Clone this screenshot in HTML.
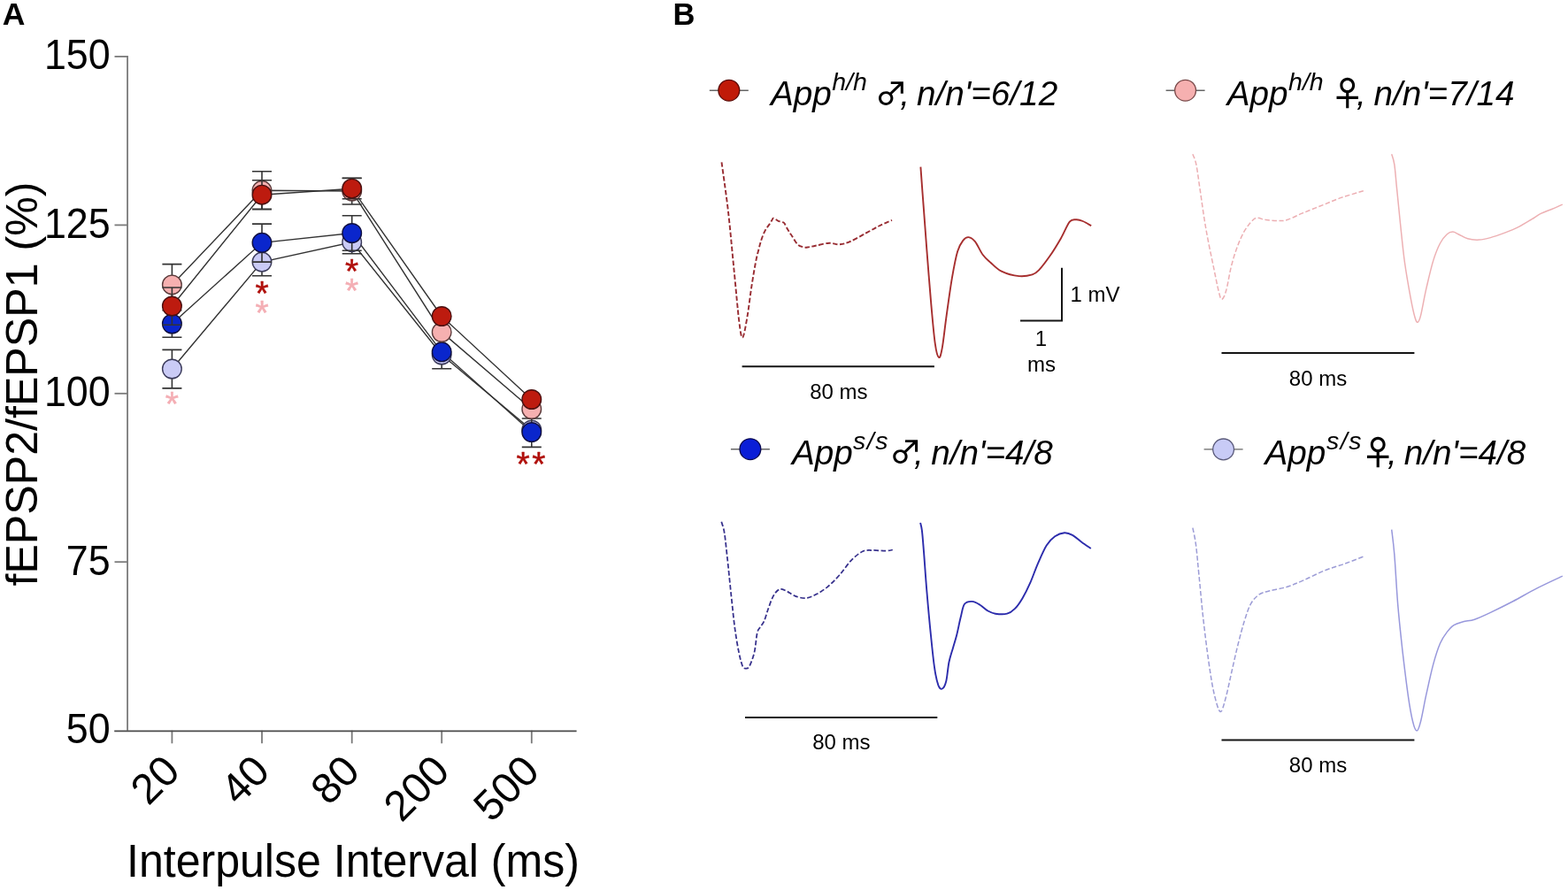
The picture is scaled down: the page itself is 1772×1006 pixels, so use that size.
<!DOCTYPE html>
<html><head><meta charset="utf-8"><title>Paired-pulse facilitation figure</title>
<style>html,body{margin:0;padding:0;background:#fff;overflow:hidden;}svg{display:block;}</style>
</head><body>
<svg width="1772" height="1006" viewBox="0 0 1772 1006">
<rect width="100%" height="100%" fill="#fff"/>
<text transform="translate(2.7,27.6) scale(1.03,1)" font-family="Liberation Sans, Arial, sans-serif" font-weight="bold" font-size="34.5" fill="#000">A</text>
<text x="760.6" y="27.6" font-family="Liberation Sans, Arial, sans-serif" font-weight="bold" font-size="34.5" fill="#000">B</text>
<g stroke="#7a7a7a" stroke-width="1.8" fill="none">
<path d="M144.05,63.1 V825.7"/>
<path d="M129.5,63.9 H144"/>
<path d="M129.5,254.4 H144"/>
<path d="M129.5,444.8 H144"/>
<path d="M129.5,635.2 H144"/>
<path d="M194.4,825.7 V840.3"/>
<path d="M296.0,825.7 V840.3"/>
<path d="M397.7,825.7 V840.3"/>
<path d="M499.2,825.7 V840.3"/>
<path d="M600.8,825.7 V840.3"/>
</g>
<path d="M129.2,826.4 H651.6" stroke="#4a4a4a" stroke-width="1.6" fill="none"/>
<g font-family="Liberation Sans, Arial, sans-serif" font-size="48.5" fill="#000" text-anchor="end">
<text transform="translate(124.7,78.3) scale(0.924,1)">150</text>
<text transform="translate(124.7,268.8) scale(0.924,1)">125</text>
<text transform="translate(124.7,459.2) scale(0.924,1)">100</text>
<text transform="translate(124.7,649.6) scale(0.924,1)">75</text>
<text transform="translate(124.7,840.1) scale(0.924,1)">50</text>
</g>
<g font-family="Liberation Sans, Arial, sans-serif" font-size="48" fill="#000" text-anchor="end">
<text transform="translate(205.6,874) rotate(-45)">20</text>
<text transform="translate(307.2,874) rotate(-45)">40</text>
<text transform="translate(408.9,874) rotate(-45)">80</text>
<text transform="translate(510.4,874) rotate(-45)">200</text>
<text transform="translate(612.0,874) rotate(-45)">500</text>
</g>
<text transform="translate(143.0,991) scale(0.963,1)" font-family="Liberation Sans, Arial, sans-serif" font-size="52" fill="#000">Interpulse Interval (ms)</text>
<text transform="translate(41.5,662.5) rotate(-90) scale(0.993,1)" font-family="Liberation Sans, Arial, sans-serif" font-size="50.5" fill="#000">fEPSP2/fEPSP1 (%)</text>
<path d="M194.4,417.0 L296.0,296.1 L397.7,273.7 L499.2,401.0 L600.8,486.0" stroke="#333" stroke-width="1.4" fill="none"/>
<path d="M194.4,366.0 L296.0,274.3 L397.7,263.5 L499.2,397.8 L600.8,488.5" stroke="#333" stroke-width="1.4" fill="none"/>
<path d="M194.4,321.9 L296.0,215.3 L397.7,216.0 L499.2,375.5 L600.8,462.5" stroke="#333" stroke-width="1.4" fill="none"/>
<path d="M194.4,346.0 L296.0,220.2 L397.7,213.2 L499.2,357.5 L600.8,451.5" stroke="#333" stroke-width="1.4" fill="none"/>
<path d="M194.4,417.0 V395.4 M183.4,395.4 H205.4 M194.4,417.0 V438.9 M183.4,438.9 H205.4" stroke="#333" stroke-width="1.6" fill="none"/>
<circle cx="194.4" cy="417.0" r="10.8" fill="#cacbf6" stroke="#3a3a5a" stroke-width="1.4"/>
<path d="M296.0,296.1 V311.8 M285.0,311.8 H307.0" stroke="#333" stroke-width="1.6" fill="none"/>
<circle cx="296.0" cy="296.1" r="10.8" fill="#cacbf6" stroke="#3a3a5a" stroke-width="1.4"/>
<path d="M397.7,273.7 V286.7 M386.7,286.7 H408.7" stroke="#333" stroke-width="1.6" fill="none"/>
<circle cx="397.7" cy="273.7" r="10.8" fill="#cacbf6" stroke="#3a3a5a" stroke-width="1.4"/>
<path d="M499.2,401.0 V416.7 M488.2,416.7 H510.2" stroke="#333" stroke-width="1.6" fill="none"/>
<circle cx="499.2" cy="401.0" r="10.8" fill="#cacbf6" stroke="#3a3a5a" stroke-width="1.4"/>
<circle cx="600.8" cy="486.0" r="10.8" fill="#cacbf6" stroke="#3a3a5a" stroke-width="1.4"/>
<path d="M194.4,366.0 V350.7 M183.4,350.7 H205.4 M194.4,366.0 V381.3 M183.4,381.3 H205.4" stroke="#333" stroke-width="1.6" fill="none"/>
<circle cx="194.4" cy="366.0" r="10.8" fill="#0a26cc" stroke="#101040" stroke-width="1.4"/>
<path d="M296.0,274.3 V253.1 M285.0,253.1 H307.0 M296.0,274.3 V296.1 M285.0,296.1 H307.0" stroke="#333" stroke-width="1.6" fill="none"/>
<circle cx="296.0" cy="274.3" r="10.8" fill="#0a26cc" stroke="#101040" stroke-width="1.4"/>
<path d="M397.7,263.5 V243.8 M386.7,243.8 H408.7 M397.7,263.5 V283.2 M386.7,283.2 H408.7" stroke="#333" stroke-width="1.6" fill="none"/>
<circle cx="397.7" cy="263.5" r="10.8" fill="#0a26cc" stroke="#101040" stroke-width="1.4"/>
<circle cx="499.2" cy="397.8" r="10.8" fill="#0a26cc" stroke="#101040" stroke-width="1.4"/>
<path d="M600.8,488.5 V473.0 M589.8,473.0 H611.8 M600.8,488.5 V505.4 M589.8,505.4 H611.8" stroke="#333" stroke-width="1.6" fill="none"/>
<circle cx="600.8" cy="488.5" r="10.8" fill="#0a26cc" stroke="#101040" stroke-width="1.4"/>
<path d="M194.4,321.9 V298.6 M183.4,298.6 H205.4 M194.4,321.9 V345.2 M183.4,345.2 H205.4" stroke="#333" stroke-width="1.6" fill="none"/>
<circle cx="194.4" cy="321.9" r="10.8" fill="#f6b0b0" stroke="#5a3a3a" stroke-width="1.4"/>
<path d="M296.0,215.3 V193.7 M285.0,193.7 H307.0 M296.0,215.3 V236.8 M285.0,236.8 H307.0" stroke="#333" stroke-width="1.6" fill="none"/>
<circle cx="296.0" cy="215.3" r="10.8" fill="#f6b0b0" stroke="#5a3a3a" stroke-width="1.4"/>
<path d="M397.7,216.0 V201.2 M386.7,201.2 H408.7 M397.7,216.0 V231.0 M386.7,231.0 H408.7" stroke="#333" stroke-width="1.6" fill="none"/>
<circle cx="397.7" cy="216.0" r="10.8" fill="#f6b0b0" stroke="#5a3a3a" stroke-width="1.4"/>
<circle cx="499.2" cy="375.5" r="10.8" fill="#f6b0b0" stroke="#5a3a3a" stroke-width="1.4"/>
<circle cx="600.8" cy="462.5" r="10.8" fill="#f6b0b0" stroke="#5a3a3a" stroke-width="1.4"/>
<path d="M194.4,346.0 V325.0 M183.4,325.0 H205.4 M194.4,346.0 V367.3 M183.4,367.3 H205.4" stroke="#333" stroke-width="1.6" fill="none"/>
<circle cx="194.4" cy="346.0" r="10.8" fill="#bd1b0f" stroke="#4a1010" stroke-width="1.4"/>
<path d="M296.0,220.2 V203.8 M285.0,203.8 H307.0 M296.0,220.2 V236.3 M285.0,236.3 H307.0" stroke="#333" stroke-width="1.6" fill="none"/>
<circle cx="296.0" cy="220.2" r="10.8" fill="#bd1b0f" stroke="#4a1010" stroke-width="1.4"/>
<path d="M397.7,213.2 V201.5 M386.7,201.5 H408.7 M397.7,213.2 V224.8 M386.7,224.8 H408.7" stroke="#333" stroke-width="1.6" fill="none"/>
<circle cx="397.7" cy="213.2" r="10.8" fill="#bd1b0f" stroke="#4a1010" stroke-width="1.4"/>
<circle cx="499.2" cy="357.5" r="10.8" fill="#bd1b0f" stroke="#4a1010" stroke-width="1.4"/>
<circle cx="600.8" cy="451.5" r="10.8" fill="#bd1b0f" stroke="#4a1010" stroke-width="1.4"/>
<text x="194.4" y="470.4" font-family="Liberation Sans, Arial, sans-serif" text-anchor="middle" font-size="39" fill="#f4aeb4" stroke="#f4aeb4" stroke-width="0.45" stroke-linejoin="round">*</text>
<text x="296.0" y="344.7" font-family="Liberation Sans, Arial, sans-serif" text-anchor="middle" font-size="39" fill="#b0100c" stroke="#b0100c" stroke-width="0.45" stroke-linejoin="round">*</text>
<text x="296.0" y="366.9" font-family="Liberation Sans, Arial, sans-serif" text-anchor="middle" font-size="39" fill="#f4aeb4" stroke="#f4aeb4" stroke-width="0.45" stroke-linejoin="round">*</text>
<text x="397.7" y="320.2" font-family="Liberation Sans, Arial, sans-serif" text-anchor="middle" font-size="39" fill="#b0100c" stroke="#b0100c" stroke-width="0.45" stroke-linejoin="round">*</text>
<text x="397.7" y="341.7" font-family="Liberation Sans, Arial, sans-serif" text-anchor="middle" font-size="39" fill="#f4aeb4" stroke="#f4aeb4" stroke-width="0.45" stroke-linejoin="round">*</text>
<text x="591.2" y="538.4" font-family="Liberation Sans, Arial, sans-serif" text-anchor="middle" font-size="39" fill="#b0100c" stroke="#b0100c" stroke-width="0.45" stroke-linejoin="round">*</text>
<text x="608.9" y="538.4" font-family="Liberation Sans, Arial, sans-serif" text-anchor="middle" font-size="39" fill="#b0100c" stroke="#b0100c" stroke-width="0.45" stroke-linejoin="round">*</text>
<path d="M801.8,102.2 H845.8" stroke="#666" stroke-width="1.4"/>
<circle cx="823.8" cy="102.2" r="11.9" fill="#c01a08" stroke="#5a0a05" stroke-width="1.3"/>
<text x="871.0" y="119.4" font-family="Liberation Sans, Arial, sans-serif" font-style="italic" font-size="38.7" fill="#000">App</text>
<text x="940.2" y="102.2" font-family="Liberation Sans, Arial, sans-serif" font-style="italic" font-size="28.5" letter-spacing="0" fill="#000">h/h</text>
<text transform="translate(988.8,118.7) scale(1,0.94)" font-family="Noto Sans CJK JP, Liberation Sans, sans-serif" font-weight="500" font-size="37" fill="#000">♂</text>
<text x="1017.2" y="119.4" font-family="Liberation Sans, Arial, sans-serif" font-style="italic" font-size="38.7" fill="#000">,</text>
<text x="1036.1" y="119.4" font-family="Liberation Sans, Arial, sans-serif" font-style="italic" font-size="38.7" fill="#000">n/n'=6/12</text>
<path d="M1317.6,102.2 H1361.6" stroke="#666" stroke-width="1.4"/>
<circle cx="1339.6" cy="102.2" r="11.9" fill="#f6b0b0" stroke="#7a4a4a" stroke-width="1.3"/>
<text x="1386.8" y="119.4" font-family="Liberation Sans, Arial, sans-serif" font-style="italic" font-size="38.7" fill="#000">App</text>
<text x="1456.1" y="102.2" font-family="Liberation Sans, Arial, sans-serif" font-style="italic" font-size="28.5" letter-spacing="0" fill="#000">h/h</text>
<text x="1503.7" y="119.4" font-family="Noto Sans CJK JP, Liberation Sans, sans-serif" font-weight="500" font-size="38" fill="#000">♀</text>
<text x="1533.1" y="119.4" font-family="Liberation Sans, Arial, sans-serif" font-style="italic" font-size="38.7" fill="#000">,</text>
<text x="1552.4" y="119.4" font-family="Liberation Sans, Arial, sans-serif" font-style="italic" font-size="38.7" fill="#000">n/n'=7/14</text>
<path d="M825.9,507.7 H869.9" stroke="#666" stroke-width="1.4"/>
<circle cx="847.9" cy="507.7" r="11.9" fill="#0a1ed7" stroke="#0a0a50" stroke-width="1.3"/>
<text x="895.0" y="524.7" font-family="Liberation Sans, Arial, sans-serif" font-style="italic" font-size="38.7" fill="#000">App</text>
<text x="964.0" y="507.6" font-family="Liberation Sans, Arial, sans-serif" font-style="italic" font-size="28.5" letter-spacing="1.5" fill="#000">s/s</text>
<text transform="translate(1005.0,524.4) scale(1,0.94)" font-family="Noto Sans CJK JP, Liberation Sans, sans-serif" font-weight="500" font-size="37" fill="#000">♂</text>
<text x="1033.0" y="524.7" font-family="Liberation Sans, Arial, sans-serif" font-style="italic" font-size="38.7" fill="#000">,</text>
<text x="1052.3" y="524.7" font-family="Liberation Sans, Arial, sans-serif" font-style="italic" font-size="38.7" fill="#000">n/n'=4/8</text>
<path d="M1360.6,507.9 H1404.6" stroke="#666" stroke-width="1.4"/>
<circle cx="1382.6" cy="507.9" r="11.9" fill="#c8cbf6" stroke="#5a5a7a" stroke-width="1.3"/>
<text x="1429.5" y="524.7" font-family="Liberation Sans, Arial, sans-serif" font-style="italic" font-size="38.7" fill="#000">App</text>
<text x="1499.1" y="507.6" font-family="Liberation Sans, Arial, sans-serif" font-style="italic" font-size="28.5" letter-spacing="1.5" fill="#000">s/s</text>
<text x="1538.2" y="524.9" font-family="Noto Sans CJK JP, Liberation Sans, sans-serif" font-weight="500" font-size="38" fill="#000">♀</text>
<text x="1568.0" y="524.7" font-family="Liberation Sans, Arial, sans-serif" font-style="italic" font-size="38.7" fill="#000">,</text>
<text x="1586.8" y="524.7" font-family="Liberation Sans, Arial, sans-serif" font-style="italic" font-size="38.7" fill="#000">n/n'=4/8</text>
<path d="M815.5,183.3 C816.7,192.5 820.5,218.0 822.9,238.6 C825.3,259.2 827.6,286.2 829.7,307.1 C831.8,328.1 833.8,351.9 835.4,364.3 C837.0,376.7 837.8,382.5 839.3,381.4 C840.8,380.2 843.0,366.7 844.6,357.4 C846.2,348.1 847.6,335.3 849.1,325.4 C850.6,315.5 852.4,305.0 853.7,298.0 C855.0,291.0 855.9,287.8 857.0,283.5 C858.1,279.2 858.9,275.7 860.1,272.0 C861.3,268.3 862.8,264.3 864.3,261.3 C865.8,258.3 867.7,256.2 869.1,254.1 C870.5,252.0 871.8,249.8 872.6,248.5 C873.5,247.2 873.1,246.4 874.2,246.6 C875.3,246.8 877.5,248.8 879.2,249.6 C880.9,250.4 883.3,250.7 884.5,251.2 C885.7,251.7 885.5,251.0 886.5,252.5 C887.5,254.0 889.1,257.7 890.6,260.1 C892.1,262.6 893.5,264.5 895.3,267.2 C897.1,269.9 899.3,274.2 901.3,276.2 C903.3,278.2 905.4,278.6 907.3,279.2 C909.2,279.8 910.2,279.8 912.6,279.5 C915.0,279.2 917.5,278.5 921.6,277.7 C925.7,276.9 932.6,274.9 937.1,274.7 C941.6,274.5 944.8,276.5 948.6,276.3 C952.4,276.1 955.0,275.4 960.0,273.3 C965.0,271.2 972.6,266.8 978.3,263.7 C984.0,260.6 989.3,257.5 994.3,255.0 C999.2,252.5 1005.7,249.9 1008.0,248.9" stroke="#982c32" stroke-width="1.9" fill="none" stroke-linejoin="round" stroke-dasharray="5.5,2.5"/>
<path d="M1040.4,188.6 C1040.9,195.8 1042.4,216.6 1043.6,232.1 C1044.8,247.6 1045.8,263.2 1047.3,281.8 C1048.8,300.4 1050.7,326.1 1052.3,343.9 C1053.9,361.7 1055.3,378.6 1056.8,388.6 C1058.2,398.6 1059.7,403.2 1061.0,404.0 C1062.3,404.8 1063.2,401.6 1064.7,393.6 C1066.2,385.7 1067.8,369.6 1069.7,356.3 C1071.6,343.1 1073.8,326.1 1075.9,314.1 C1078.0,302.1 1080.0,291.3 1082.1,284.3 C1084.2,277.3 1086.2,274.6 1088.3,271.9 C1090.4,269.2 1092.2,267.9 1094.5,268.1 C1096.8,268.3 1099.3,269.8 1102.0,273.1 C1104.7,276.4 1107.8,284.1 1110.7,288.0 C1113.6,291.9 1115.9,293.6 1119.4,296.7 C1122.9,299.8 1126.4,304.0 1131.8,306.6 C1137.2,309.2 1145.9,311.5 1151.7,312.1 C1157.5,312.7 1162.9,311.5 1166.6,310.4 C1170.3,309.3 1170.7,308.9 1174.0,305.4 C1177.3,301.9 1182.3,295.3 1186.5,289.3 C1190.7,283.3 1195.2,275.8 1198.9,269.4 C1202.6,263.0 1205.9,254.2 1208.8,250.7 C1211.7,247.2 1213.8,248.4 1216.3,248.3 C1218.8,248.2 1220.9,248.8 1223.7,250.0 C1226.5,251.2 1231.6,254.3 1233.2,255.2" stroke="#a62e2e" stroke-width="1.9" fill="none" stroke-linejoin="round"/>
<path d="M1347.9,174.2 C1348.6,176.2 1350.5,179.4 1351.9,186.2 C1353.3,192.9 1354.4,202.7 1356.2,214.7 C1358.0,226.7 1360.2,243.8 1362.8,258.4 C1365.3,273.0 1369.1,290.5 1371.5,302.1 C1373.9,313.8 1375.5,322.3 1377.0,328.3 C1378.5,334.3 1379.2,338.2 1380.7,338.2 C1382.2,338.2 1384.0,334.3 1385.7,328.3 C1387.5,322.3 1389.2,310.1 1391.2,302.1 C1393.2,294.1 1395.4,286.8 1397.8,280.2 C1400.2,273.6 1402.9,267.5 1405.4,262.8 C1408.0,258.1 1410.7,254.5 1413.1,251.8 C1415.5,249.1 1416.7,247.0 1419.6,246.4 C1422.5,245.8 1426.6,248.0 1430.6,248.5 C1434.6,249.0 1439.7,249.6 1443.7,249.6 C1447.7,249.6 1449.9,249.9 1454.6,248.5 C1459.3,247.1 1465.5,243.6 1472.1,240.9 C1478.7,238.2 1486.7,235.0 1494.0,232.1 C1501.3,229.2 1508.0,226.1 1515.8,223.4 C1523.6,220.7 1536.8,217.0 1541.0,215.7" stroke="#ecaeb2" stroke-width="1.5" fill="none" stroke-linejoin="round" stroke-dasharray="5.5,2.5"/>
<path d="M1572.7,174.2 C1573.2,176.1 1574.8,179.6 1575.8,185.8 C1576.8,192.1 1577.3,200.9 1578.4,211.7 C1579.5,222.5 1580.8,236.3 1582.3,250.5 C1583.8,264.7 1585.5,282.8 1587.5,297.0 C1589.5,311.2 1592.1,325.5 1594.0,335.8 C1595.9,346.1 1597.7,354.3 1599.1,359.0 C1600.5,363.7 1601.1,364.6 1602.2,364.2 C1603.3,363.8 1604.0,362.9 1605.6,356.4 C1607.2,349.9 1609.6,335.7 1612.0,325.4 C1614.4,315.1 1617.2,302.8 1619.8,294.4 C1622.4,286.0 1624.9,279.9 1627.5,275.0 C1630.1,270.1 1632.9,266.8 1635.3,264.7 C1637.7,262.6 1639.6,262.1 1641.8,262.1 C1644.0,262.1 1645.4,263.4 1648.2,264.7 C1651.0,266.0 1654.7,268.7 1658.6,269.8 C1662.5,270.9 1667.2,271.3 1671.5,271.1 C1675.8,270.9 1679.7,269.9 1684.4,268.6 C1689.1,267.3 1694.7,265.3 1699.9,263.4 C1705.1,261.4 1710.2,259.5 1715.4,256.9 C1720.6,254.3 1726.6,250.5 1730.9,247.9 C1735.2,245.3 1737.4,243.4 1741.3,241.4 C1745.2,239.4 1750.1,237.9 1754.2,236.2 C1758.3,234.5 1763.9,231.9 1765.8,231.1" stroke="#edb0b3" stroke-width="1.5" fill="none" stroke-linejoin="round"/>
<path d="M815.3,589.8 C815.8,591.8 817.5,595.1 818.6,601.9 C819.7,608.6 820.6,618.6 821.9,630.3 C823.2,641.9 824.8,658.3 826.2,671.8 C827.7,685.3 829.1,700.3 830.6,711.2 C832.1,722.1 833.6,730.5 835.0,737.4 C836.4,744.3 837.8,749.5 839.0,752.5 C840.2,755.5 841.2,755.5 842.5,755.6 C843.8,755.7 845.1,756.2 846.8,753.2 C848.5,750.2 851.0,743.7 852.5,737.4 C854.0,731.1 854.6,720.2 855.7,715.5 C856.8,710.8 857.7,711.2 859.0,709.0 C860.3,706.8 861.9,705.7 863.4,702.4 C864.9,699.1 866.2,693.8 867.8,689.3 C869.4,684.8 871.4,678.7 873.2,675.1 C875.0,671.5 877.1,669.0 878.7,667.5 C880.4,666.0 881.3,665.7 883.1,665.9 C884.9,666.1 887.1,667.2 889.6,668.5 C892.1,669.8 894.9,672.3 898.4,673.6 C901.9,674.9 906.4,676.5 910.4,676.2 C914.4,675.9 918.2,674.0 922.4,671.8 C926.6,669.6 931.1,666.7 935.5,663.1 C939.9,659.5 944.3,654.9 948.7,650.0 C953.1,645.1 957.4,638.1 961.8,633.6 C966.2,629.1 970.9,625.2 974.9,623.3 C978.9,621.4 981.4,622.1 985.8,622.0 C990.2,621.9 997.3,622.7 1001.1,622.6 C1004.9,622.5 1007.5,621.7 1008.8,621.5" stroke="#36308c" stroke-width="1.75" fill="none" stroke-linejoin="round" stroke-dasharray="5.5,2.5"/>
<path d="M1040.1,590.9 C1040.4,592.4 1041.2,594.2 1041.9,599.7 C1042.6,605.2 1043.1,612.4 1044.0,623.7 C1044.9,635.0 1046.0,652.2 1047.3,667.5 C1048.6,682.8 1050.2,700.9 1051.7,715.5 C1053.2,730.1 1054.6,745.0 1056.1,754.9 C1057.5,764.8 1059.0,770.7 1060.4,774.6 C1061.9,778.5 1063.3,779.2 1064.8,778.5 C1066.3,777.8 1067.9,775.2 1069.2,770.2 C1070.5,765.2 1071.2,754.5 1072.5,748.3 C1073.8,742.1 1075.3,738.1 1076.8,733.0 C1078.2,727.9 1079.7,723.5 1081.2,717.7 C1082.7,711.9 1084.1,703.9 1085.6,698.1 C1087.1,692.3 1087.8,685.8 1090.0,682.8 C1092.2,679.8 1095.8,679.7 1098.7,679.9 C1101.6,680.1 1104.6,682.0 1107.5,683.8 C1110.4,685.5 1113.3,688.8 1116.2,690.4 C1119.1,692.0 1121.2,693.2 1124.9,693.7 C1128.6,694.2 1134.4,694.6 1138.1,693.7 C1141.8,692.8 1143.9,691.1 1146.8,688.2 C1149.7,685.3 1152.6,681.1 1155.5,676.2 C1158.4,671.3 1161.4,665.3 1164.3,658.7 C1167.2,652.1 1169.9,643.8 1173.0,636.8 C1176.1,629.8 1179.5,621.6 1182.7,616.5 C1185.9,611.4 1188.8,608.7 1192.2,606.3 C1195.6,603.9 1199.7,602.5 1203.0,602.2 C1206.3,602.0 1208.7,603.0 1212.0,604.8 C1215.3,606.6 1219.1,610.4 1222.6,612.9 C1226.1,615.4 1231.1,618.8 1232.8,620.0" stroke="#2c2cac" stroke-width="1.9" fill="none" stroke-linejoin="round"/>
<path d="M1347.9,596.7 C1348.5,599.9 1350.3,606.6 1351.5,615.8 C1352.7,624.9 1353.7,637.7 1355.1,651.6 C1356.5,665.5 1358.0,683.4 1359.8,699.3 C1361.6,715.2 1363.8,733.1 1365.8,747.0 C1367.8,760.9 1369.6,773.2 1371.8,782.8 C1374.0,792.3 1376.7,803.1 1378.9,804.3 C1381.1,805.5 1382.7,797.5 1384.9,790.0 C1387.1,782.5 1389.6,769.4 1392.0,759.0 C1394.4,748.6 1396.8,737.4 1399.2,727.9 C1401.6,718.4 1404.0,709.2 1406.4,701.7 C1408.8,694.2 1410.7,687.6 1413.5,682.6 C1416.3,677.6 1419.5,674.4 1423.1,671.9 C1426.7,669.4 1429.8,669.2 1435.0,667.8 C1440.2,666.4 1447.7,665.5 1454.1,663.5 C1460.5,661.5 1466.0,659.0 1473.2,655.9 C1480.4,652.8 1489.0,648.1 1497.0,644.9 C1505.0,641.7 1513.5,639.5 1520.9,636.8 C1528.3,634.1 1537.8,630.2 1541.2,628.9" stroke="#9c9cd6" stroke-width="1.5" fill="none" stroke-linejoin="round" stroke-dasharray="5.5,2.5"/>
<path d="M1572.7,598.6 C1573.2,603.2 1574.6,612.4 1575.8,626.5 C1577.0,640.6 1578.2,665.3 1579.7,683.4 C1581.2,701.5 1583.0,717.9 1584.9,735.1 C1586.9,752.3 1589.5,773.4 1591.4,786.8 C1593.3,800.1 1594.9,808.7 1596.5,815.2 C1598.1,821.8 1599.7,826.1 1601.2,826.1 C1602.7,826.1 1603.8,822.2 1605.6,815.2 C1607.4,808.2 1609.6,795.0 1612.0,784.2 C1614.4,773.4 1617.2,760.1 1619.8,750.6 C1622.4,741.1 1624.9,733.3 1627.5,727.3 C1630.1,721.3 1632.7,717.8 1635.3,714.4 C1637.9,711.0 1640.0,708.5 1643.0,706.6 C1646.0,704.7 1649.5,703.9 1653.4,702.8 C1657.3,701.7 1661.1,701.9 1666.3,700.2 C1671.5,698.5 1677.1,695.9 1684.4,692.4 C1691.7,688.9 1701.6,684.0 1710.2,679.5 C1718.8,675.0 1726.8,670.0 1736.1,665.3 C1745.4,660.6 1760.8,653.5 1765.8,651.1" stroke="#9898dc" stroke-width="1.5" fill="none" stroke-linejoin="round"/>
<g stroke="#151515" stroke-width="2" fill="none">
<path d="M838.6,414.3 H1055.9"/>
<path d="M1380.5,399.1 H1598.4"/>
<path d="M842,810.9 H1059.3"/>
<path d="M1380.5,836.6 H1598.4"/>
<path d="M1153,362.6 H1200 V302.8"/>
</g>
<text x="947.9" y="450.8" text-anchor="middle" font-family="Liberation Sans, Arial, sans-serif" font-size="24" fill="#000">80 ms</text>
<text x="1489.5" y="436.1" text-anchor="middle" font-family="Liberation Sans, Arial, sans-serif" font-size="24" fill="#000">80 ms</text>
<text x="950.9" y="847.1" text-anchor="middle" font-family="Liberation Sans, Arial, sans-serif" font-size="24" fill="#000">80 ms</text>
<text x="1489.5" y="872.5" text-anchor="middle" font-family="Liberation Sans, Arial, sans-serif" font-size="24" fill="#000">80 ms</text>
<text x="1209.5" y="341.4" font-family="Liberation Sans, Arial, sans-serif" font-size="24" fill="#000">1 mV</text>
<text x="1176.5" y="391.1" text-anchor="middle" font-family="Liberation Sans, Arial, sans-serif" font-size="24" fill="#000">1</text>
<text x="1177" y="420.3" text-anchor="middle" font-family="Liberation Sans, Arial, sans-serif" font-size="24" fill="#000">ms</text>
</svg>
</body></html>
